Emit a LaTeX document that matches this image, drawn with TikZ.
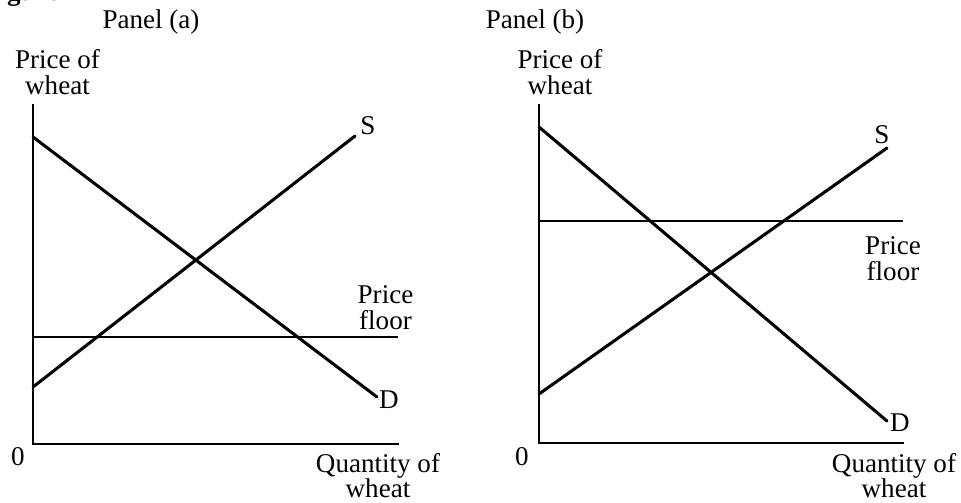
\documentclass[tikz,border=0pt]{standalone}
\usepackage{fontspec}
\setmainfont{Liberation Serif}
\begin{document}
\begin{tikzpicture}[x=0.75pt,y=-0.75pt,
  lbl/.style={inner sep=0pt,outer sep=0pt,anchor=base,font=\fontsize{20.3pt}{19.5pt}\selectfont},
  twoline/.style={lbl,align=center},
  qlbl/.style={twoline,font=\fontsize{20.3pt}{18.5pt}\selectfont},
  axisline/.style={line width=2.2pt,line cap=rect},
  curve/.style={line width=2.3pt,line cap=round},
  floorline/.style={line width=1.9pt}]
\useasboundingbox (0,0) rectangle (961,503);
\clip (0,0) rectangle (961,503);
% cropped figure caption
\node[lbl,anchor=base west,font=\fontsize{20.3pt}{24pt}\selectfont\bfseries] (fig) at (-17,1) {Figure};
% ---------------- Panel (a) ----------------
\node[lbl] (ta) at (151,29) {Panel (a)};
\coordinate (aTop) at (33,105);
\coordinate (aO) at (33,444);
\coordinate (aRight) at (398,444);
\draw[axisline] (aTop) -- (aO) -- (aRight);
\coordinate (aS1) at (33,387);
\coordinate (aS2) at (355,136);
\coordinate (aD1) at (33,137);
\coordinate (aD2) at (377,397);
\coordinate (aF1) at (33,337);
\coordinate (aF2) at (398,337);
\draw[curve] (aS1) -- (aS2);
\draw[curve] (aD1) -- (aD2);
\draw[floorline] (aF1) -- (aF2);
\node[twoline] (ay) at (57.5,94) {Price of\\wheat};
\node[lbl] (a0) at (18,465) {0};
\node[qlbl] (ax) at (378,497) {Quantity of\\wheat};
\node[lbl] (aSl) at (368,135) {S};
\node[lbl] (aDl) at (389,408) {D};
\node[twoline] (aP) at (385.5,329) {Price\\floor};
% ---------------- Panel (b) ----------------
\node[lbl] (tb) at (535,29) {Panel (b)};
\coordinate (bTop) at (539,105);
\coordinate (bO) at (539,443);
\coordinate (bRight) at (903,443);
\draw[axisline] (bTop) -- (bO) -- (bRight);
\coordinate (bS1) at (539,394);
\coordinate (bS2) at (887,148);
\coordinate (bD1) at (539,127);
\coordinate (bD2) at (887,421);
\coordinate (bF1) at (539,221);
\coordinate (bF2) at (903,221);
\draw[curve] (bS1) -- (bS2);
\draw[curve] (bD1) -- (bD2);
\draw[floorline] (bF1) -- (bF2);
\node[twoline] (by) at (560,94) {Price of\\wheat};
\node[lbl] (b0) at (522,465) {0};
\node[qlbl] (bx) at (894,497) {Quantity of\\wheat};
\node[lbl] (bSl) at (882,143) {S};
\node[lbl] (bDl) at (900,431) {D};
\node[twoline] (bP) at (893,280) {Price\\floor};
\end{tikzpicture}
\end{document}
